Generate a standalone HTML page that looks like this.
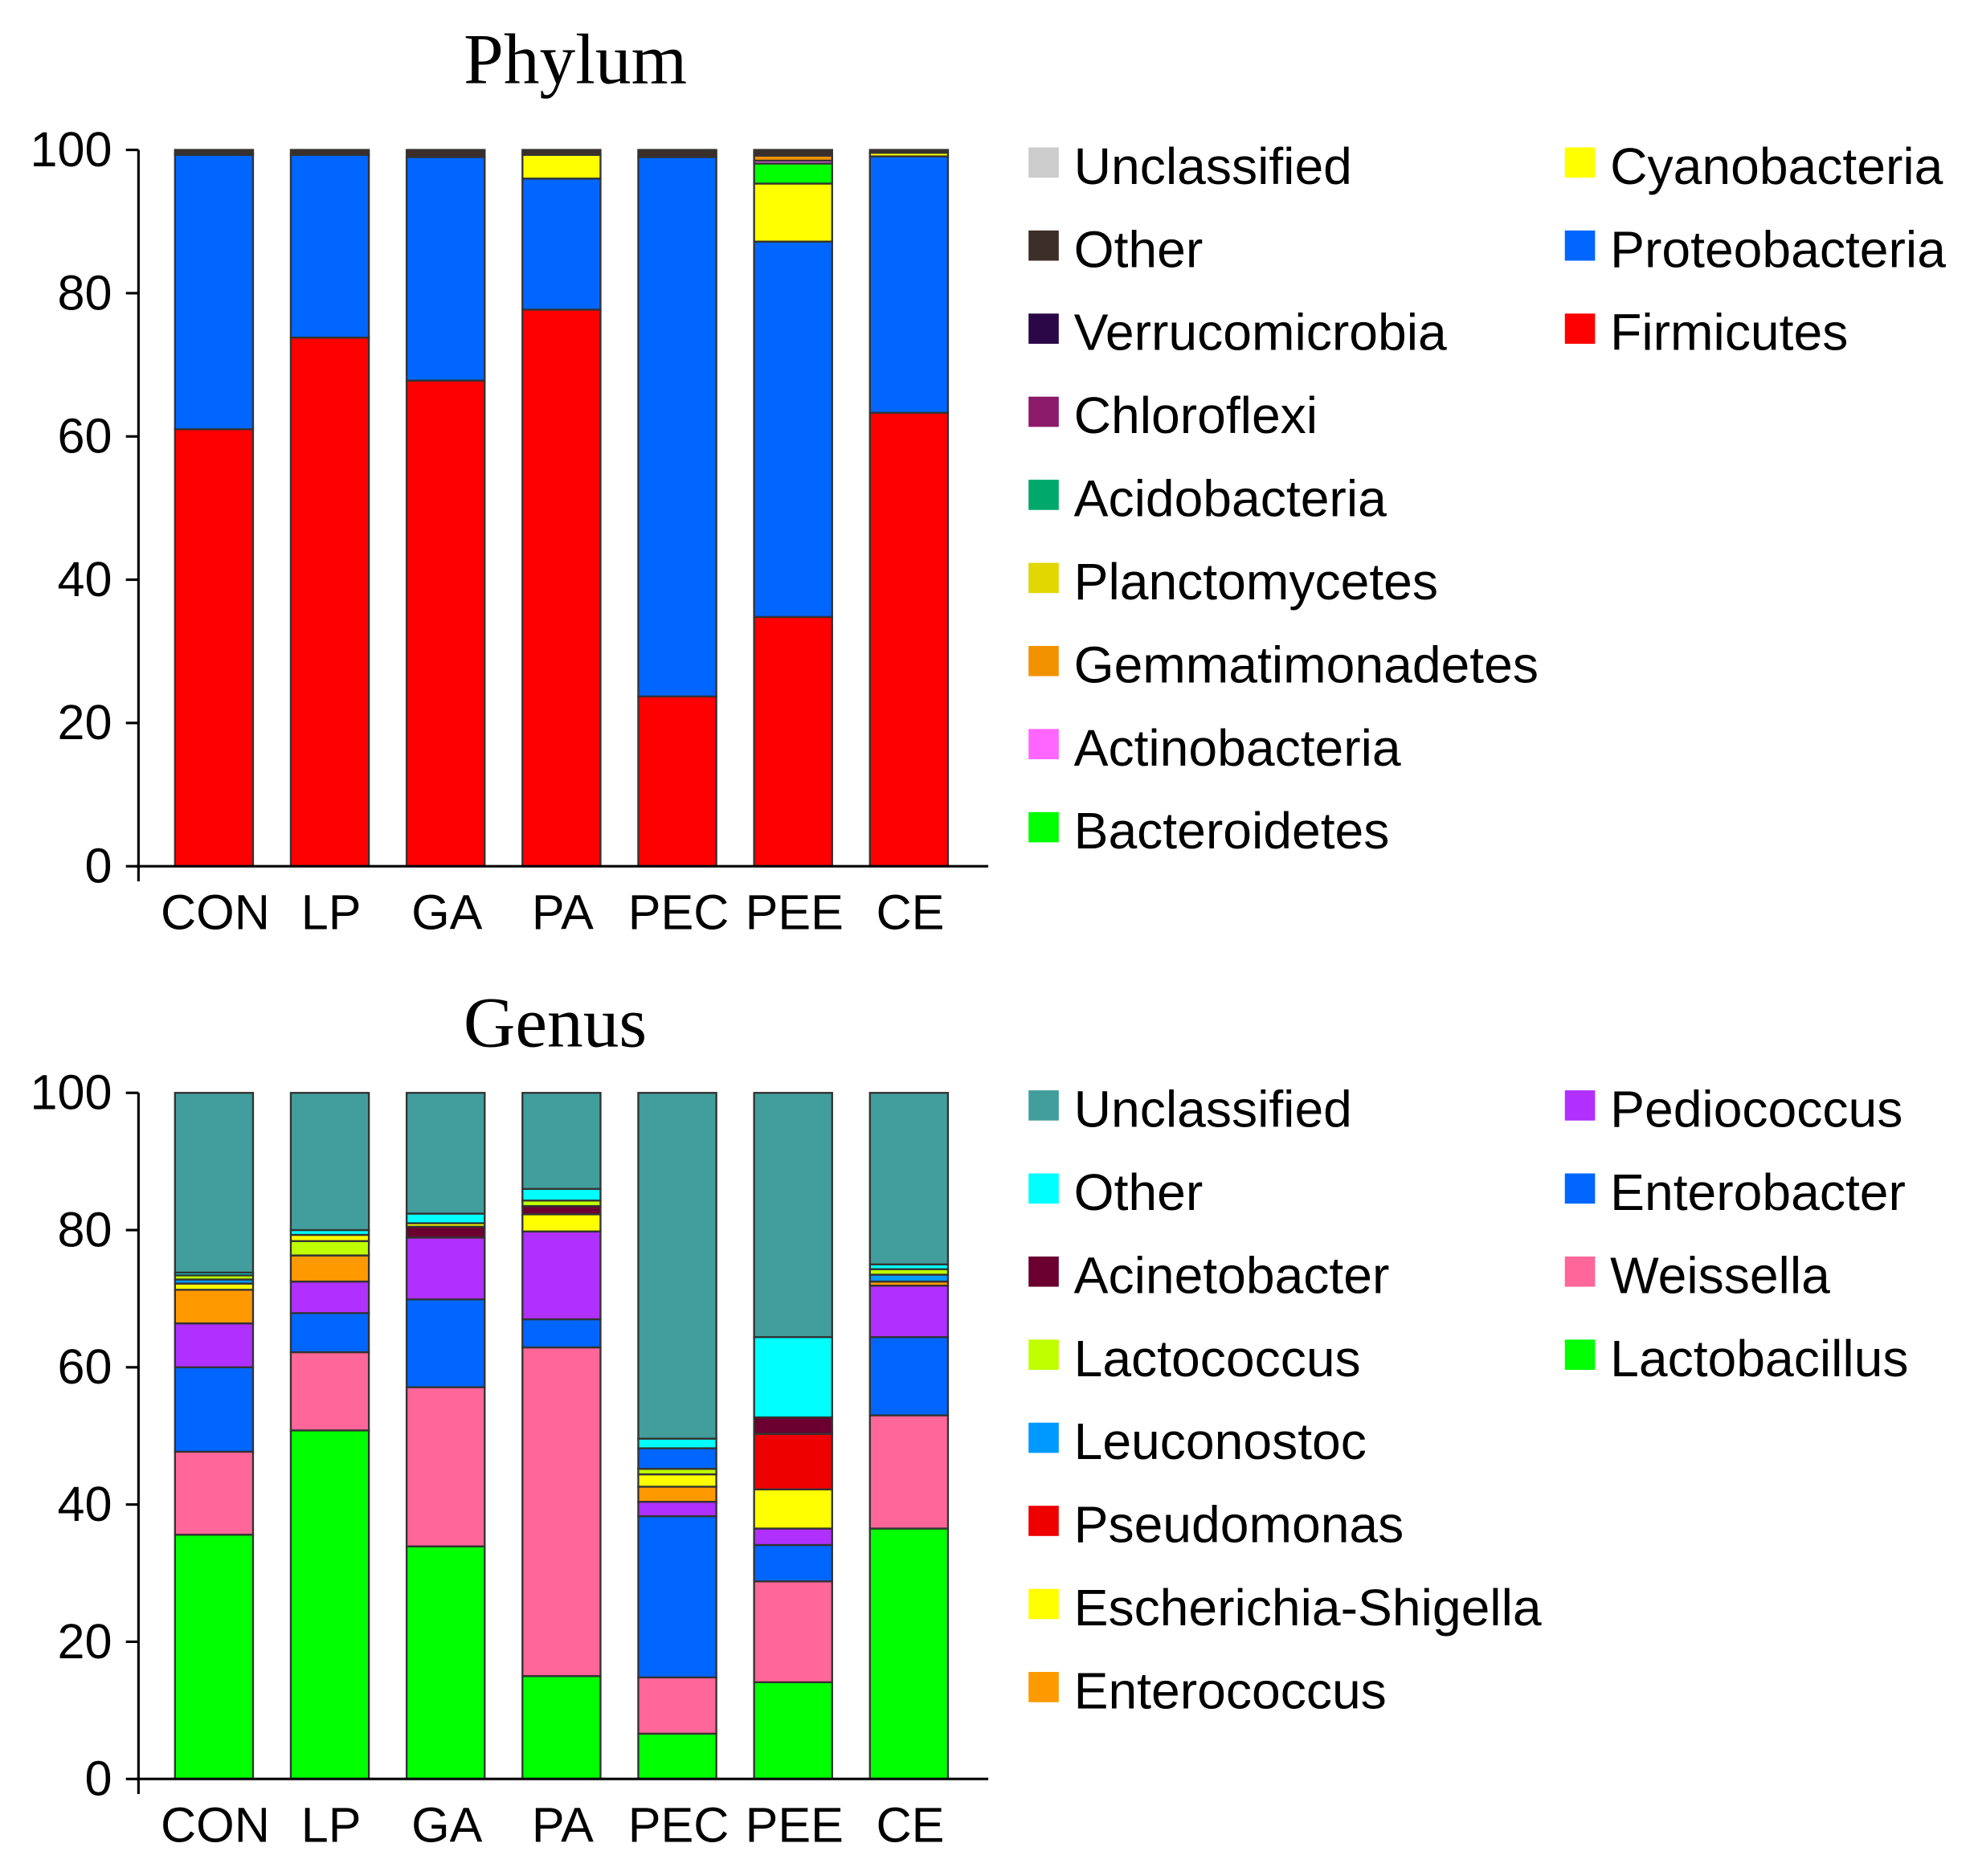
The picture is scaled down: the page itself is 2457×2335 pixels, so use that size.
<!DOCTYPE html>
<html><head><meta charset="utf-8"><style>html,body{margin:0;padding:0;background:#fff}svg{display:block}</style></head><body>
<svg width="2457" height="2335" viewBox="0 0 1568 1490" xmlns="http://www.w3.org/2000/svg" font-family="Liberation Sans, Arial, sans-serif">
<rect width="1568" height="1490" fill="#fff"/>
<text x="457" y="66" font-family="Liberation Serif, serif" font-size="57" text-anchor="middle">Phylum</text>
<text x="441" y="831" font-family="Liberation Serif, serif" font-size="57" text-anchor="middle">Genus</text>
<g id="bars" stroke="#333" stroke-width="1.5"></g>
<g id="axes" stroke="#000" stroke-width="2" fill="none"></g>
<g id="txt" font-size="39"></g>
<g id="leg" font-size="41"></g>
<script>
const NS="http://www.w3.org/2000/svg";
function el(t,a,p,txt){const e=document.createElementNS(NS,t);for(const k in a)e.setAttribute(k,a[k]);if(txt!==undefined)e.textContent=txt;document.getElementById(p).appendChild(e);return e;}
const cats=["CON","LP","GA","PA","PEC","PEE","CE"];
const P={Unc:"#CCCCCC",Oth:"#3C2E28",Ver:"#2A0848",Chl:"#8B1A6B",Aci:"#00A86B",Pla:"#E0D800",Gem:"#F39200",Act:"#FF66FF",Bac:"#00FF00",Cya:"#FFFF00",Pro:"#0066FF",Fir:"#FF0000"};
const G={Unc:"#429E9D",Oth:"#00FFFF",Aci:"#6B0030",Lcc:"#BFFF00",Leu:"#0099FF",Pse:"#EE0000",Esc:"#FFFF00",Enc:"#FF9900",Ped:"#B030FF",Ent:"#0066FF",Wei:"#FF6699",Lac:"#00FF00"};
const pd=[
[["Fir",61],["Pro",99.3],["Cya",99.5],["Oth",100]],
[["Fir",73.8],["Pro",99.3],["Oth",100]],
[["Fir",67.8],["Pro",99],["Oth",100]],
[["Fir",77.7],["Pro",96],["Cya",99.3],["Oth",100]],
[["Fir",23.7],["Pro",99],["Oth",100]],
[["Fir",34.8],["Pro",87.2],["Cya",95.3],["Bac",98.1],["Act",98.5],["Gem",99.2],["Oth",100]],
[["Fir",63.3],["Pro",99.1],["Cya",99.6],["Oth",100]]];
const gd=[
[["Lac",35.6],["Wei",47.7],["Ent",60],["Ped",66.4],["Enc",71.3],["Esc",72.2],["Leu",72.8],["Lcc",73.4],["Oth",73.8],["Unc",100]],
[["Lac",50.8],["Wei",62.2],["Ent",67.9],["Ped",72.5],["Enc",76.3],["Lcc",78.4],["Esc",79.3],["Oth",80],["Unc",100]],
[["Lac",33.9],["Wei",57.1],["Ent",69.9],["Ped",78.9],["Aci",80.5],["Esc",81],["Oth",82.4],["Unc",100]],
[["Lac",15],["Wei",62.9],["Ent",67],["Ped",79.8],["Esc",82.3],["Aci",83.5],["Lcc",84.3],["Oth",86],["Unc",100]],
[["Lac",6.6],["Wei",14.8],["Ent",38.3],["Ped",40.4],["Enc",42.6],["Esc",44.4],["Lcc",45.2],["Ent",48.2],["Oth",49.6],["Unc",100]],
[["Lac",14.1],["Wei",28.8],["Ent",34.1],["Ped",36.5],["Esc",42.2],["Pse",50.3],["Aci",52.7],["Oth",64.4],["Unc",100]],
[["Lac",36.5],["Wei",53],["Ent",64.4],["Ped",71.9],["Enc",72.5],["Leu",73.5],["Lcc",74.3],["Oth",75],["Unc",100]]];
function chart(data,cols,y0,y100){
 const s=(y0-y100)/100;
 data.forEach((b,i)=>{let prev=0;const x=139+92*i;
  b.forEach(([k,v])=>{el("rect",{x:x,y:y0-v*s,width:62,height:(v-prev)*s,fill:cols[k]},"bars");prev=v;});});
 el("path",{d:`M110 ${y100} V${y0+12} M108 ${y0} H785`},"axes");
 for(let t=0;t<=100;t+=20){const y=y0-t*s;el("path",{d:`M100 ${y} H110`},"axes");
  el("text",{x:89,y:y+13,"text-anchor":"end"},"txt",String(t));}
 cats.forEach((c,i)=>el("text",{x:171+92*i,y:y0+50,"text-anchor":"middle"},"txt",c));
}
chart(pd,P,688,119);chart(gd,G,1413,868);
function legend(items,cols,x,ty){items.forEach(([k,n],i)=>{const y=ty+66*i;
 el("rect",{x:x,y:y-14,width:24,height:24,fill:cols[k],stroke:"none"},"leg");
 el("text",{x:x+36,y:y+15},"leg",n);});}
legend([["Unc","Unclassified"],["Oth","Other"],["Ver","Verrucomicrobia"],["Chl","Chloroflexi"],["Aci","Acidobacteria"],["Pla","Planctomycetes"],["Gem","Gemmatimonadetes"],["Act","Actinobacteria"],["Bac","Bacteroidetes"]],P,817,131);
legend([["Cya","Cyanobacteria"],["Pro","Proteobacteria"],["Fir","Firmicutes"]],P,1243,131);
legend([["Unc","Unclassified"],["Oth","Other"],["Aci","Acinetobacter"],["Lcc","Lactococcus"],["Leu","Leuconostoc"],["Pse","Pseudomonas"],["Esc","Escherichia-Shigella"],["Enc","Enterococcus"]],G,817,880);
legend([["Ped","Pediococcus"],["Ent","Enterobacter"],["Wei","Weissella"],["Lac","Lactobacillus"]],G,1243,880);
</script>
</svg>
</body></html>
